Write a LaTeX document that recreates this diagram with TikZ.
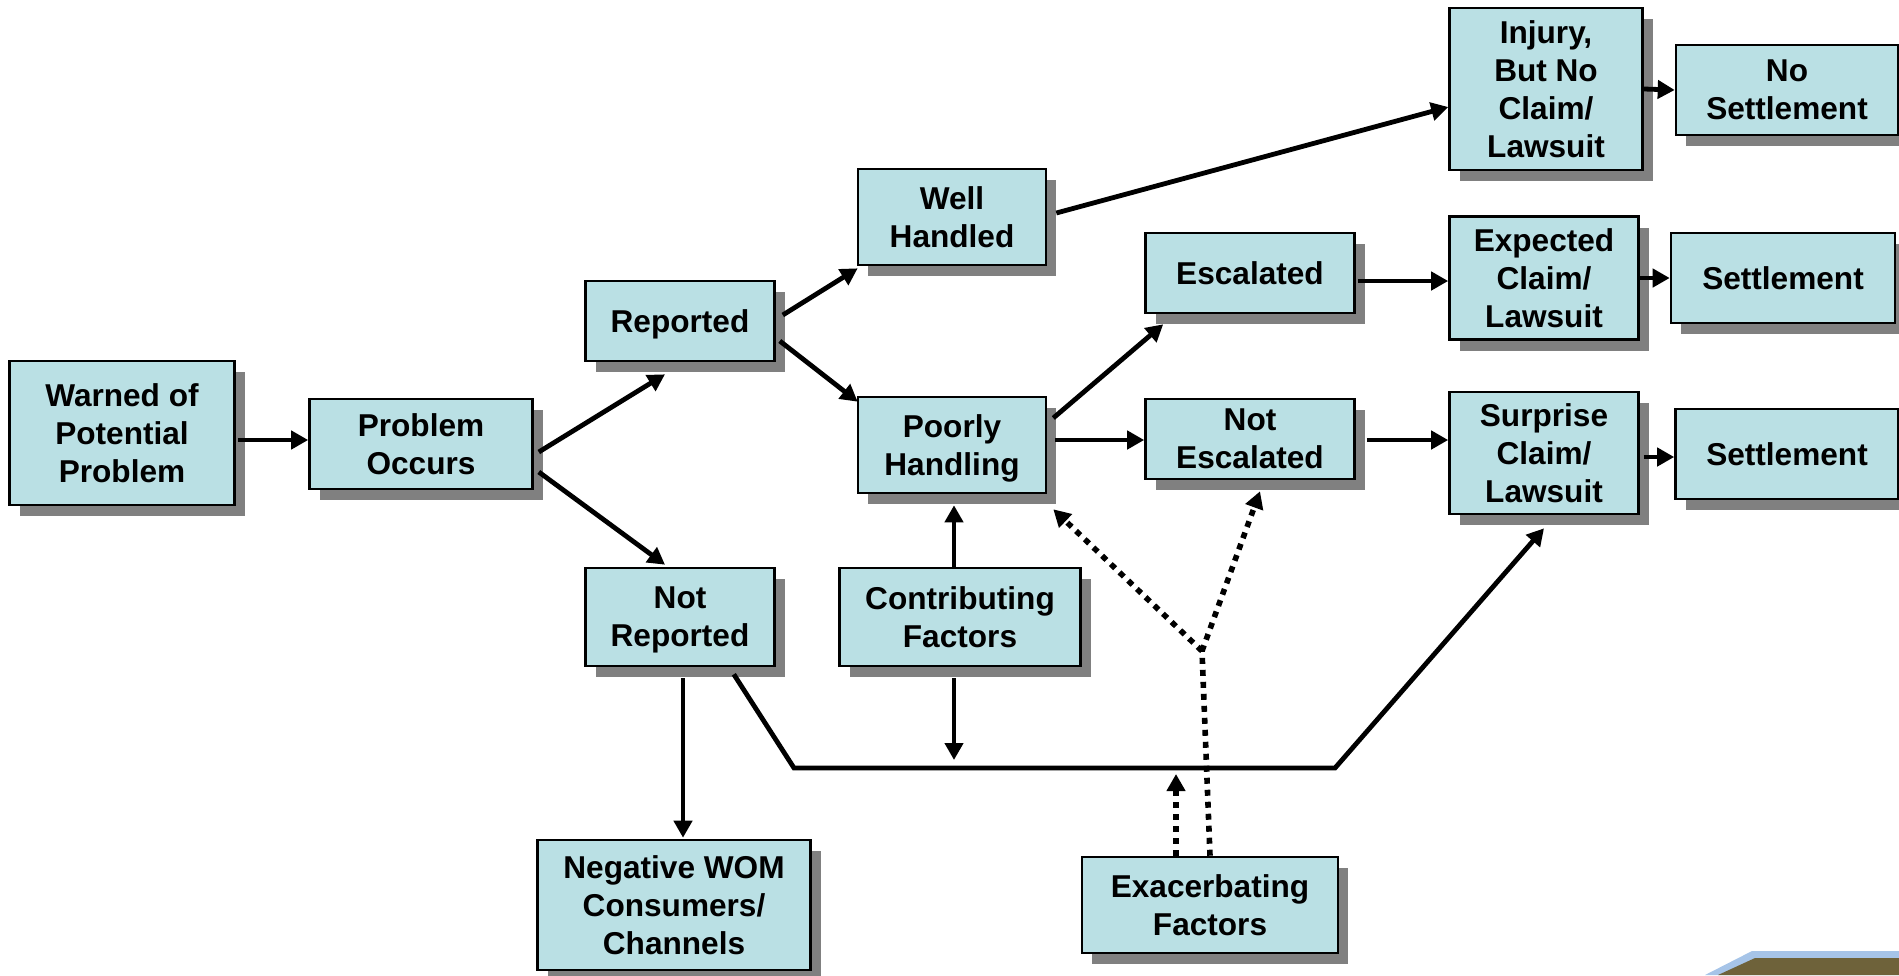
\documentclass[tikz,border=0pt]{standalone}
\usepackage{fontspec}
\setmainfont{Liberation Sans}
\usepackage{xcolor}
\usepackage{tikz}
\usetikzlibrary{arrows.meta,positioning,calc,shadows}

\definecolor{boxfill}{RGB}{186,224,228}
\definecolor{shadegray}{RGB}{128,128,128}
\definecolor{bandblue}{RGB}{166,196,232}
\definecolor{bandolive}{RGB}{110,98,58}

\begin{document}
\begin{tikzpicture}[x=0.5pt, y=-0.5pt,
    box/.style={draw, line width=1.3pt, fill=boxfill, align=center, inner sep=0pt,
        text depth=0pt, font=\bfseries\fontsize{15.8}{19}\selectfont,
        drop shadow={shadow xshift=5pt, shadow yshift=-5.5pt, fill=shadegray, opacity=1}},
    wh/.style 2 args={minimum width=#1*0.5pt, minimum height=#2*0.5pt},
    arr/.style={line width=2.4pt, -{Triangle[length=8.5pt, width=9pt]}},
    dots/.style={arr, line width=2.8pt, dash pattern=on 3pt off 3pt}]
    \useasboundingbox (0,0) rectangle (1899,975);

    % main chain
    \node[box, wh={225}{144}] (warn) at (122,433) {Warned of\\Potential\\Problem};
    \node[box, wh={223}{90}] (occur) at (421,444) {Problem\\Occurs};
    \node[box, wh={189}{80}] (rep) at (680,321) {Reported};
    \node[box, wh={189}{98}] (notrep) at (680,617) {Not\\Reported};
    \node[box, wh={188}{96}] (well) at (952,217) {Well\\Handled};
    \node[box, wh={188}{96}] (poor) at (952,445) {Poorly\\Handling};
    \node[box, wh={241}{98}] (contrib) at (960,617) {Contributing\\Factors};
    \node[box, wh={209}{80}] (esc) at (1250,273) {Escalated};
    \node[box, wh={209}{80}] (notesc) at (1250,439) {Not\\Escalated};

    % outcomes
    \node[box, wh={193}{162}] (injury) at (1546,89) {Injury,\\But No\\Claim/\\Lawsuit};
    \node[box, wh={222}{90}] (nosettle) at (1787,90) {No\\Settlement};
    \node[box, wh={189}{123}] (expect) at (1544,278) {Expected\\Claim/\\Lawsuit};
    \node[box, wh={224}{90}] (settle1) at (1783,278) {Settlement};
    \node[box, wh={189}{122}] (surprise) at (1544,453) {Surprise\\Claim/\\Lawsuit};
    \node[box, wh={223}{90}] (settle2) at (1787,454) {Settlement};

    \node[box, wh={273}{130}] (wom) at (674,905) {Negative WOM\\Consumers/\\Channels};
    \node[box, wh={256}{96}] (exac) at (1210,905) {Exacerbating\\Factors};

    % bends of the long line under the boxes
    \coordinate (bendL) at (794,768);
    \coordinate (bendR) at (1335,768);
    \coordinate (fork) at (1202,651);

    \draw[arr] ($(warn.east)+(2,7)$) -- ($(occur.west)+(0,-4)$);
    \draw[arr] ($(occur.east)+(5,8)$) -- ($(rep.south)+(-15,12)$);
    \draw[arr] ($(occur.east)+(5,28)$) -- ($(notrep.north)+(-15,-2)$);
    \draw[arr] ($(rep.east)+(7,-6)$) -- ($(well.south west)+(1,2)$);
    \draw[arr] ($(rep.east)+(4,20)$) -- ($(poor.north west)+(1,6)$);
    \draw[arr] ($(well.east)+(9,-4)$) -- ($(injury.west)+(0,18)$);
    \draw[arr] (injury.east) -- (nosettle.west);
    \draw[arr] ($(poor.east)+(6,-27)$) -- ($(esc.south west)+(19,10)$);
    \draw[arr] ($(poor.east)+(8,-5)$) -- ($(notesc.west)+(0,1)$);
    \draw[arr] ($(esc.east)+(2,8)$) -- ($(expect.west)+(0,3)$);
    \draw[arr] (expect.east) -- (settle1.west);
    \draw[arr] ($(notesc.east)+(11,1)$) -- ($(surprise.west)+(0,-13)$);
    \draw[arr] ($(surprise.east)+(4,4)$) -- ($(settle2.west)+(0,3)$);

    % contributing factors feed both ways
    \draw[arr] ($(contrib.north)+(-6,0)$) -- ($(poor.south)+(2,11)$);
    \draw[arr] ($(contrib.south)+(-6,11)$) -- ($(contrib.south |- bendL)+(-6,-8)$);

    % unreported problems
    \draw[arr] ($(notrep.south)+(3,11)$) -- ($(wom.north)+(9,-1)$);
    \draw[arr] ($(notrep.south east)+(-42,7)$) -- (bendL) -- (bendR) -- ($(surprise.south)+(0,13)$);

    % exacerbating factors (dotted)
    \draw[dots, -] (exac.north) -- (fork);
    \draw[dots] (fork) -- ($(poor.south east)+(6,15)$);
    \draw[dots] (fork) -- ($(notesc.south)+(10,11)$);
    \draw[dots] ($(exac.north)+(-34,0)$) -- ($(exac.north |- bendL)+(-34,6)$);

    % corner band
    \fill[bandblue] (1705,975) -- (1752,951) -- (1899,951) -- (1899,975) -- cycle;
    \fill[bandolive] (1718,975) -- (1755,958) -- (1899,958) -- (1899,975) -- cycle;
\end{tikzpicture}
\end{document}
